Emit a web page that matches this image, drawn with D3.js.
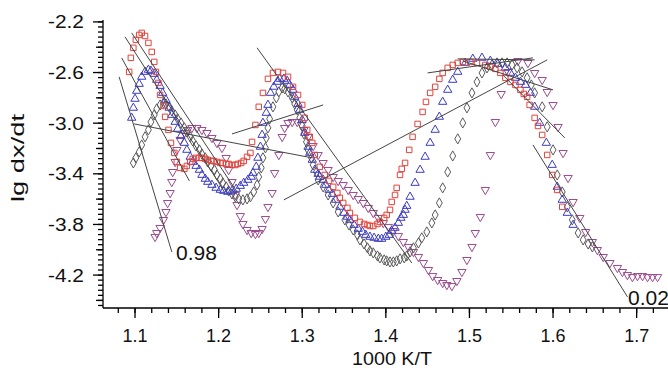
<!DOCTYPE html>
<html><head><meta charset="utf-8">
<script src="https://cdn.jsdelivr.net/npm/d3@7"></script>
<style>
html,body{margin:0;padding:0;background:#fff;}
svg{display:block;font-family:"Liberation Sans",Arial,sans-serif;}
</style></head>
<body>
<svg id="chart" width="668" height="375"></svg>
<script>
const redPts = [[1.093,-2.595],[1.095,-2.484],[1.098,-2.405],[1.101,-2.342],[1.105,-2.303],[1.108,-2.287],[1.112,-2.311],[1.116,-2.366],[1.120,-2.437],[1.123,-2.516],[1.125,-2.595],[1.128,-2.682],[1.130,-2.777],[1.134,-2.864],[1.136,-2.950],[1.140,-3.053],[1.143,-3.156],[1.147,-3.235],[1.150,-3.306],[1.154,-3.353],[1.159,-3.361],[1.162,-3.338],[1.166,-3.306],[1.169,-3.282],[1.173,-3.274],[1.177,-3.274],[1.180,-3.274],[1.184,-3.282],[1.187,-3.290],[1.191,-3.298],[1.194,-3.298],[1.198,-3.306],[1.202,-3.314],[1.205,-3.314],[1.209,-3.322],[1.212,-3.322],[1.216,-3.330],[1.220,-3.330],[1.223,-3.322],[1.227,-3.314],[1.230,-3.298],[1.234,-3.266],[1.238,-3.235],[1.240,-3.148],[1.244,-3.014],[1.248,-2.871],[1.253,-2.761],[1.259,-2.650],[1.265,-2.603],[1.271,-2.595],[1.277,-2.603],[1.283,-2.634],[1.289,-2.713],[1.295,-2.777],[1.300,-2.856],[1.303,-2.958],[1.306,-3.053],[1.309,-3.108],[1.312,-3.156],[1.315,-3.251],[1.321,-3.345],[1.327,-3.409],[1.332,-3.456],[1.337,-3.503],[1.342,-3.551],[1.345,-3.590],[1.349,-3.630],[1.354,-3.669],[1.357,-3.709],[1.363,-3.748],[1.369,-3.780],[1.374,-3.796],[1.378,-3.804],[1.381,-3.812],[1.385,-3.812],[1.390,-3.796],[1.393,-3.780],[1.398,-3.748],[1.401,-3.725],[1.405,-3.685],[1.407,-3.622],[1.411,-3.567],[1.413,-3.511],[1.417,-3.409],[1.419,-3.361],[1.423,-3.314],[1.428,-3.211],[1.432,-3.108],[1.438,-3.006],[1.444,-2.911],[1.448,-2.832],[1.453,-2.761],[1.459,-2.713],[1.464,-2.650],[1.468,-2.603],[1.474,-2.563],[1.480,-2.540],[1.486,-2.524],[1.492,-2.516],[1.501,-2.516],[1.509,-2.524],[1.519,-2.540],[1.525,-2.555],[1.531,-2.571],[1.537,-2.603],[1.543,-2.642],[1.549,-2.674],[1.555,-2.698],[1.561,-2.737],[1.565,-2.769],[1.569,-2.792],[1.572,-2.856],[1.578,-2.958],[1.582,-3.022],[1.587,-3.093],[1.593,-3.251],[1.599,-3.409],[1.605,-3.527],[1.611,-3.661]];

const bluePts = [[1.096,-2.958],[1.098,-2.879],[1.100,-2.808],[1.102,-2.745],[1.105,-2.690],[1.108,-2.634],[1.112,-2.595],[1.116,-2.579],[1.119,-2.587],[1.123,-2.611],[1.126,-2.658],[1.130,-2.706],[1.133,-2.761],[1.137,-2.816],[1.141,-2.879],[1.144,-2.935],[1.148,-2.990],[1.151,-3.045],[1.155,-3.101],[1.159,-3.156],[1.162,-3.211],[1.166,-3.266],[1.169,-3.306],[1.173,-3.338],[1.177,-3.369],[1.180,-3.409],[1.184,-3.440],[1.187,-3.464],[1.192,-3.488],[1.197,-3.511],[1.202,-3.527],[1.206,-3.535],[1.211,-3.543],[1.216,-3.535],[1.221,-3.519],[1.226,-3.496],[1.230,-3.472],[1.235,-3.448],[1.239,-3.424],[1.241,-3.393],[1.245,-3.345],[1.247,-3.274],[1.250,-3.187],[1.252,-3.093],[1.253,-2.998],[1.257,-2.919],[1.259,-2.856],[1.262,-2.761],[1.266,-2.713],[1.270,-2.674],[1.273,-2.650],[1.278,-2.650],[1.282,-2.666],[1.285,-2.698],[1.289,-2.737],[1.291,-2.792],[1.295,-2.848],[1.297,-2.895],[1.300,-2.974],[1.303,-3.077],[1.307,-3.187],[1.309,-3.235],[1.312,-3.290],[1.315,-3.369],[1.319,-3.401],[1.321,-3.424],[1.325,-3.448],[1.328,-3.488],[1.332,-3.527],[1.336,-3.559],[1.340,-3.606],[1.345,-3.661],[1.350,-3.709],[1.354,-3.740],[1.357,-3.764],[1.362,-3.804],[1.367,-3.835],[1.372,-3.859],[1.376,-3.883],[1.381,-3.898],[1.386,-3.906],[1.391,-3.914],[1.395,-3.914],[1.400,-3.898],[1.404,-3.883],[1.407,-3.851],[1.411,-3.827],[1.415,-3.788],[1.418,-3.748],[1.421,-3.725],[1.423,-3.685],[1.425,-3.654],[1.429,-3.582],[1.435,-3.472],[1.441,-3.369],[1.447,-3.266],[1.453,-3.156],[1.459,-3.053],[1.464,-2.950],[1.468,-2.832],[1.474,-2.737],[1.480,-2.658],[1.486,-2.595],[1.495,-2.524],[1.504,-2.492],[1.515,-2.484],[1.525,-2.508],[1.534,-2.532],[1.543,-2.563],[1.549,-2.603],[1.555,-2.642],[1.561,-2.674],[1.567,-2.698],[1.573,-2.761],[1.578,-2.871],[1.584,-2.998],[1.592,-3.156],[1.599,-3.330],[1.605,-3.503],[1.611,-3.606],[1.617,-3.709],[1.624,-3.804]];

const blackPts = [[1.098,-3.314],[1.101,-3.274],[1.105,-3.227],[1.108,-3.172],[1.112,-3.108],[1.116,-3.053],[1.119,-2.990],[1.123,-2.935],[1.126,-2.887],[1.130,-2.856],[1.134,-2.840],[1.137,-2.848],[1.141,-2.871],[1.144,-2.903],[1.148,-2.935],[1.151,-2.966],[1.155,-2.998],[1.159,-3.037],[1.162,-3.069],[1.166,-3.108],[1.169,-3.140],[1.173,-3.180],[1.177,-3.211],[1.180,-3.243],[1.184,-3.274],[1.187,-3.306],[1.191,-3.338],[1.195,-3.369],[1.198,-3.409],[1.202,-3.440],[1.205,-3.472],[1.209,-3.503],[1.212,-3.535],[1.216,-3.559],[1.220,-3.582],[1.224,-3.598],[1.229,-3.606],[1.234,-3.598],[1.238,-3.582],[1.242,-3.543],[1.246,-3.488],[1.248,-3.424],[1.251,-3.353],[1.253,-3.274],[1.256,-3.195],[1.257,-3.116],[1.259,-3.037],[1.261,-2.966],[1.265,-2.871],[1.269,-2.800],[1.272,-2.753],[1.276,-2.721],[1.279,-2.729],[1.283,-2.753],[1.288,-2.800],[1.291,-2.848],[1.294,-2.895],[1.297,-2.958],[1.300,-3.022],[1.302,-3.085],[1.305,-3.148],[1.307,-3.211],[1.311,-3.274],[1.313,-3.330],[1.317,-3.385],[1.319,-3.448],[1.325,-3.503],[1.331,-3.567],[1.337,-3.630],[1.343,-3.701],[1.351,-3.764],[1.356,-3.804],[1.361,-3.843],[1.366,-3.883],[1.369,-3.922],[1.374,-3.954],[1.378,-3.985],[1.381,-4.009],[1.385,-4.025],[1.390,-4.049],[1.393,-4.064],[1.398,-4.080],[1.401,-4.088],[1.405,-4.096],[1.409,-4.096],[1.413,-4.088],[1.417,-4.072],[1.422,-4.064],[1.425,-4.049],[1.429,-4.017],[1.433,-3.985],[1.439,-3.946],[1.443,-3.906],[1.449,-3.859],[1.455,-3.788],[1.459,-3.725],[1.464,-3.630],[1.468,-3.511],[1.474,-3.385],[1.480,-3.259],[1.486,-3.124],[1.492,-2.998],[1.497,-2.879],[1.503,-2.761],[1.509,-2.674],[1.515,-2.603],[1.521,-2.563],[1.527,-2.540],[1.533,-2.524],[1.539,-2.524],[1.545,-2.524],[1.551,-2.540],[1.557,-2.563],[1.563,-2.595],[1.569,-2.642],[1.574,-2.698],[1.578,-2.761],[1.587,-2.871],[1.593,-3.029],[1.600,-3.211],[1.605,-3.409],[1.611,-3.543],[1.617,-3.661],[1.623,-3.764],[1.630,-3.867],[1.636,-3.922],[1.642,-3.954],[1.647,-3.977]];

const purplePts = [[1.124,-3.898],[1.126,-3.867],[1.130,-3.827],[1.134,-3.764],[1.137,-3.701],[1.139,-3.630],[1.142,-3.551],[1.144,-3.464],[1.145,-3.385],[1.148,-3.306],[1.150,-3.211],[1.154,-3.132],[1.159,-3.077],[1.163,-3.053],[1.168,-3.037],[1.174,-3.037],[1.180,-3.053],[1.186,-3.077],[1.192,-3.116],[1.198,-3.156],[1.204,-3.195],[1.209,-3.274],[1.212,-3.369],[1.216,-3.464],[1.220,-3.567],[1.222,-3.646],[1.226,-3.733],[1.229,-3.796],[1.234,-3.843],[1.239,-3.867],[1.244,-3.875],[1.248,-3.867],[1.252,-3.835],[1.256,-3.756],[1.259,-3.661],[1.264,-3.551],[1.267,-3.393],[1.272,-3.251],[1.276,-3.108],[1.279,-3.037],[1.283,-2.998],[1.288,-2.990],[1.294,-2.990],[1.299,-3.014],[1.302,-3.053],[1.307,-3.108],[1.313,-3.180],[1.319,-3.251],[1.325,-3.314],[1.331,-3.369],[1.337,-3.424],[1.343,-3.456],[1.349,-3.488],[1.355,-3.527],[1.361,-3.567],[1.367,-3.598],[1.373,-3.630],[1.379,-3.669],[1.385,-3.709],[1.391,-3.748],[1.397,-3.788],[1.403,-3.819],[1.409,-3.851],[1.415,-3.891],[1.421,-3.938],[1.427,-3.977],[1.433,-4.017],[1.439,-4.056],[1.445,-4.104],[1.451,-4.159],[1.456,-4.207],[1.462,-4.238],[1.468,-4.262],[1.473,-4.278],[1.479,-4.286],[1.485,-4.246],[1.491,-4.175],[1.497,-4.080],[1.503,-3.977],[1.507,-3.867],[1.513,-3.740],[1.519,-3.527],[1.525,-3.251],[1.531,-2.990],[1.538,-2.769],[1.546,-2.595],[1.558,-2.508],[1.570,-2.524],[1.578,-2.603],[1.587,-2.658],[1.593,-2.753],[1.600,-2.856],[1.606,-3.029],[1.612,-3.235],[1.618,-3.432],[1.624,-3.622],[1.632,-3.748],[1.639,-3.859],[1.647,-3.938],[1.653,-4.001],[1.660,-4.056],[1.668,-4.104],[1.677,-4.143],[1.683,-4.175],[1.689,-4.199],[1.695,-4.215],[1.701,-4.207],[1.707,-4.207],[1.713,-4.215],[1.719,-4.215],[1.725,-4.215]];

// fitted straight lines: [x1, y1, x2, y2]
const fitLines = [
  [1.081,-2.634,1.144,-4.017],
  [1.084,-2.484,1.165,-3.456],
  [1.088,-2.318,1.205,-3.520],
  [1.096,-2.287,1.222,-3.543],
  [1.099,-3.006,1.312,-3.274],
  [1.216,-3.085,1.325,-2.856],
  [1.246,-2.405,1.431,-4.104],
  [1.278,-3.606,1.593,-2.500],
  [1.450,-2.603,1.576,-2.484],
  [1.486,-2.492,1.578,-2.500],
  [1.492,-2.508,1.600,-2.737],
  [1.540,-2.619,1.614,-3.116],
  [1.576,-3.172,1.689,-4.372]
];

const xMajorTicks = [1.1,1.2,1.3,1.4,1.5,1.6,1.7];
const xTickLabels = ["1.1","1.2","1.3","1.4","1.5","1.6","1.7"];
const yMajorTicks = [-2.2,-2.6,-3.0,-3.4,-3.8,-4.2];
const yTickLabels = ["-2.2","-2.6","-3.0","-3.4","-3.8","-4.2"];
const yMidTicks = [-2.4,-2.8,-3.2,-3.6,-4.0,-4.4];
const annotations = [{text:"0.98", x:1.149, y:-4.080},{text:"0.02", x:1.6897, y:-4.436}];

const svg = d3.select("#chart");
const x = d3.scaleLinear().domain([1.0617,1.7375]).range([103,668]);
const y = d3.scaleLinear().domain([-4.46,-2.185]).range([308,20]);

const xMinor = d3.range(54,87).map(i=>+(i*0.02).toFixed(2)).filter(v=>v<=1.7375);
const yMinor = d3.range(0,57).map(i=>+(-2.2 - i*0.04).toFixed(2)).filter(v=>v>=-4.46);

const axisG = svg.append("g").attr("stroke","#000").attr("stroke-width",1.3);
axisG.append("line").attr("x1",x.range()[0]).attr("x2",668).attr("y1",308).attr("y2",308);
axisG.append("line").attr("x1",103).attr("x2",103).attr("y1",20).attr("y2",308);
axisG.selectAll(".xm").data(xMinor).join("line")
  .attr("x1",d=>x(d)).attr("x2",d=>x(d)).attr("y1",308).attr("y2",313);
axisG.selectAll(".xM").data(xMajorTicks).join("line")
  .attr("x1",d=>x(d)).attr("x2",d=>x(d)).attr("y1",308).attr("y2",318);
axisG.selectAll(".ym").data(yMinor).join("line")
  .attr("x1",98).attr("x2",103).attr("y1",d=>y(d)).attr("y2",d=>y(d));
axisG.selectAll(".yd").data(yMidTicks).join("line")
  .attr("x1",96).attr("x2",103).attr("y1",d=>y(d)).attr("y2",d=>y(d));
axisG.selectAll(".yM").data(yMajorTicks).join("line")
  .attr("x1",93).attr("x2",103).attr("y1",d=>y(d)).attr("y2",d=>y(d));

svg.selectAll(".xl").data(xMajorTicks).join("text")
  .attr("x",d=>x(d)).attr("y",342).attr("text-anchor","middle")
  .attr("font-size",18).attr("fill","#111").text((d,i)=>xTickLabels[i]);
svg.selectAll(".yl").data(yMajorTicks).join("text")
  .attr("x",84).attr("y",d=>y(d)+6.5).attr("text-anchor","end")
  .attr("font-size",18).attr("fill","#111")
  .attr("textLength",36).attr("lengthAdjust","spacingAndGlyphs")
  .text((d,i)=>yTickLabels[i]);

svg.append("text").attr("x",352).attr("y",365)
  .attr("font-size",19).attr("fill","#111")
  .attr("textLength",80).attr("lengthAdjust","spacingAndGlyphs").text("1000 K/T");
svg.append("text").attr("transform","translate(24,202) rotate(-90)")
  .attr("font-size",19).attr("fill","#111")
  .attr("textLength",88).attr("lengthAdjust","spacingAndGlyphs").text("lg dx/dt");

const plot = svg.append("g");
function drawSeries(data, symType, size, color, rot){
  const sym = d3.symbol().type(symType).size(size);
  plot.append("g").selectAll("path").data(data).join("path")
    .attr("d", sym)
    .attr("transform", d=>`translate(${x(d[0])},${y(d[1])})`+(rot?` rotate(${rot})`:""))
    .attr("fill","none").attr("stroke",color).attr("stroke-width",1);
}
drawSeries(purplePts, d3.symbolTriangle, 30, "#9a4a8e", 180);
drawSeries(blackPts, d3.symbolDiamond, 30, "#5a5a5a", 0);
drawSeries(bluePts, d3.symbolTriangle, 30, "#3b3bc4", 0);
drawSeries(redPts, d3.symbolSquare, 30, "#e0443c", 0);

svg.append("g").selectAll("line").data(fitLines).join("line")
  .attr("x1",d=>x(d[0])).attr("y1",d=>y(d[1])).attr("x2",d=>x(d[2])).attr("y2",d=>y(d[3]))
  .attr("stroke","#444").attr("stroke-width",1);

svg.selectAll(".ann").data(annotations).join("text")
  .attr("x",d=>x(d.x)).attr("y",d=>y(d.y)).attr("font-size",21).attr("fill","#111")
  .text(d=>d.text);
</script>
</body></html>
